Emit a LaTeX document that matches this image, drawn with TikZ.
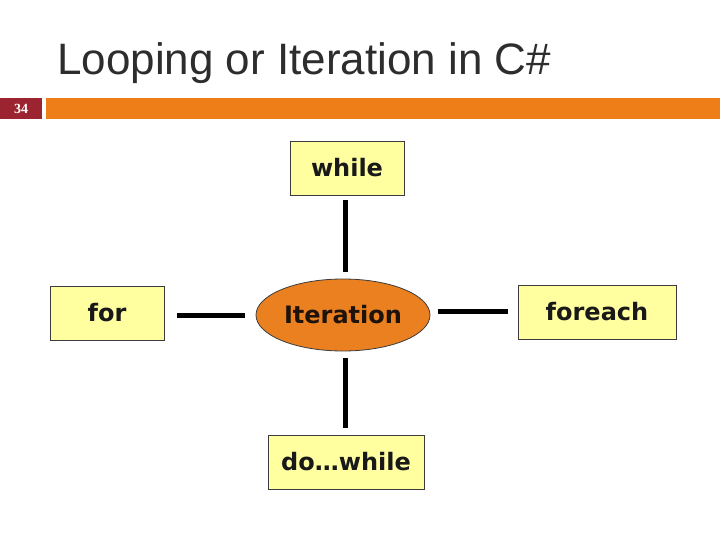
\documentclass[tikz,border=0pt]{standalone}
\usepackage{fontspec}
\setmainfont{Liberation Sans}
\newfontfamily\boxfont{DejaVu Sans}
\newfontfamily\numfont{Liberation Serif}
\usetikzlibrary{shapes.geometric}
\definecolor{boxyellow}{RGB}{255,255,160}
\definecolor{iterorange}{RGB}{234,128,32}
\definecolor{barorange}{RGB}{238,127,24}
\definecolor{numred}{RGB}{156,35,48}
\definecolor{titlegray}{RGB}{45,45,45}
\definecolor{edgegray}{RGB}{60,60,60}
\tikzset{
  kwbox/.style={draw=edgegray, line width=0.8pt, fill=boxyellow, inner sep=0pt,
    text=black!90, font=\boxfont\bfseries\fontsize{24}{28}\selectfont},
  iterell/.style={ellipse, draw=edgegray, line width=0.8pt, fill=iterorange, inner sep=0pt,
    minimum width=174pt, minimum height=72pt, text=black!85!brown,
    font=\boxfont\bfseries\fontsize{24}{28}\selectfont},
  conn/.style={line width=5pt, black}
}
\begin{document}
\begin{tikzpicture}[x=1pt,y=-1pt]
\useasboundingbox (0,0) rectangle (720,540);
% title
\node[anchor=base west, inner sep=0pt, text=titlegray,
  font=\fontsize{44}{50}\selectfont] (title) at (57,75) {Looping or Iteration in C\#};
% slide number and bar
\fill[numred] (0,98) rectangle (42,119);
\node[text=white, font=\numfont\bfseries\fontsize{14}{16}\selectfont, inner sep=0pt] (num) at (21,108.5) {34};
\fill[barorange] (46,98) rectangle (720,119);
% nodes
\node[kwbox, minimum width=114pt, minimum height=54pt] (while) at (347,168) {while};
\node[iterell] (iter) at (343,315) {Iteration};
\node[kwbox, minimum width=156pt, minimum height=54pt] (dowhile) at (346,462) {do\ldots while};
\node[kwbox, minimum width=114pt, minimum height=54pt] (for) at (107,313) {for};
\node[kwbox, minimum width=158pt, minimum height=54pt] (foreach) at (597,312) {foreach};
% connectors
\draw[conn] ([yshift=-5pt]while.south -| 345,0) -- ([yshift=7pt]iter.north -| 345,0);
\draw[conn] ([yshift=-7pt]iter.south -| 345,0) -- ([yshift=7pt]dowhile.north -| 345,0);
\draw[conn] ([xshift=13pt]for.east |- 0,315) -- ([xshift=-11pt]iter.west |- 0,315);
\draw[conn] ([xshift=8pt]iter.east |- 0,311) -- ([xshift=-10pt]foreach.west |- 0,311);
\end{tikzpicture}
\end{document}
